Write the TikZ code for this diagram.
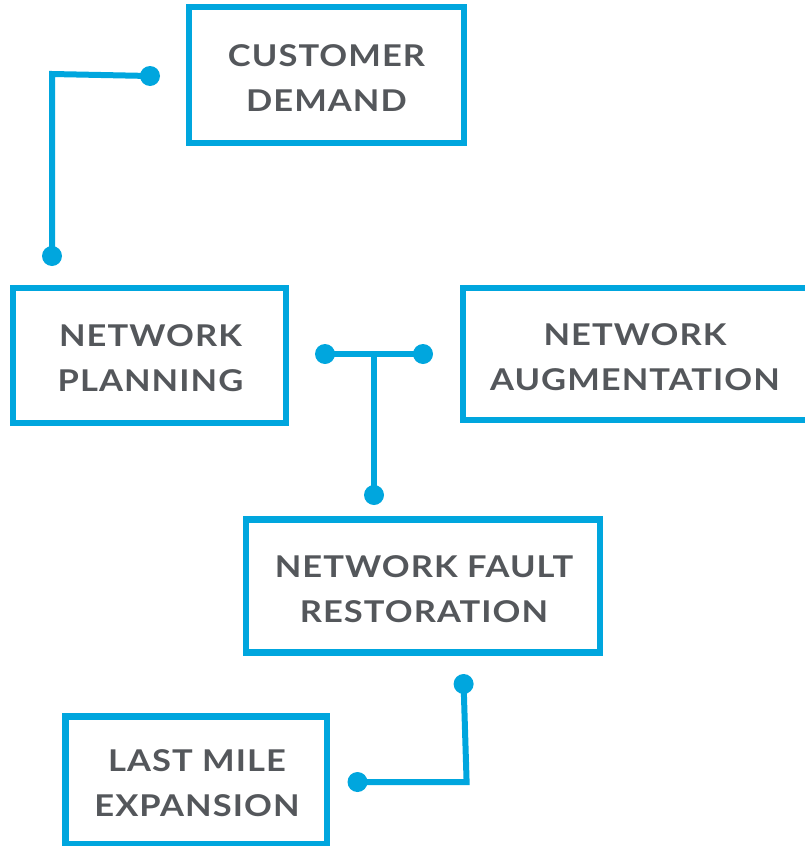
\documentclass[tikz,border=0pt]{standalone}
\usepackage{fontspec}
\setmainfont{Lato}[UprightFont=* Bold,FakeStretch=1.15,LetterSpace=3.5]
\definecolor{boxblue}{HTML}{00A6DE}
\definecolor{txtgrey}{HTML}{54575B}
\begin{document}
\begin{tikzpicture}[x=1pt,y=-1pt,
  stagebox/.style={draw=boxblue,line width=6.5pt,rectangle,inner sep=0pt,
    align=center,text=txtgrey,font=\fontsize{30}{45}\selectfont},
  stagetext/.style={inner sep=0pt,align=center,text=txtgrey,font=\fontsize{30}{45}\selectfont},
  dotnode/.style={circle,fill=boxblue,inner sep=0pt,minimum size=20pt},
  wire/.style={draw=boxblue,line width=6pt}]
\useasboundingbox (0,0) rectangle (804,846);
\node[stagebox,minimum width=275pt,minimum height=136pt] (cd) at (326.5,75) {};
\node[stagetext] (cdt) at (326.5,78) {CUSTOMER\\DEMAND};
\node[stagebox,minimum width=273pt,minimum height=135pt] (np) at (149.5,355.5) {};
\node[stagetext] (npt) at (150.5,358) {NETWORK\\PLANNING};
\node[stagebox,minimum width=347pt,minimum height=132pt] (na) at (636.5,354) {};
\node[stagetext] (nat) at (635,357) {NETWORK\\AUGMENTATION};
\node[stagebox,minimum width=354pt,minimum height=133pt] (nf) at (423,586) {};
\node[stagetext] (nft) at (424,589) {NETWORK FAULT\\RESTORATION};
\node[stagebox,minimum width=261.5pt,minimum height=127.5pt] (lm) at (196,780) {};
\node[stagetext] (lmt) at (197,783) {LAST MILE\\EXPANSION};
% connector 1
\node[dotnode] (d1a) at (150,76) {};
\node[dotnode] (d1b) at (52,256) {};
\coordinate (c1) at (52,74);
\draw[wire] (d1a.center) -- (c1) -- (d1b.center);
% T connector
\node[dotnode] (d2a) at (325,354) {};
\node[dotnode] (d2b) at (423,354) {};
\node[dotnode] (d2c) at (374,495) {};
\coordinate (c2) at (374,354);
\draw[wire] (d2a.center) -- (d2b.center);
\draw[wire] (c2) -- (d2c.center);
% connector 3
\node[dotnode] (d3a) at (463.6,684) {};
\node[dotnode] (d3b) at (357.5,782) {};
\coordinate (c3) at (466.6,782);
\draw[wire] (d3a.center) -- (c3) -- (d3b.center);
\end{tikzpicture}
\end{document}
